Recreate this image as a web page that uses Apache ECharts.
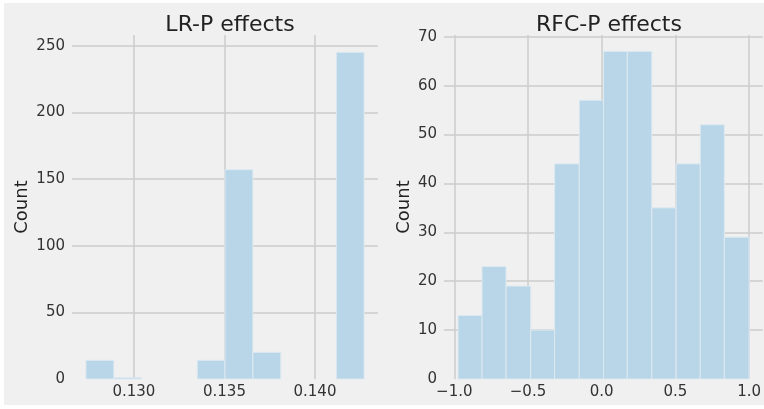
<!DOCTYPE html>
<html>

<head>
    <meta charset="utf-8">
    <title>LR-P / RFC-P effects</title>
    <script src="https://cdn.jsdelivr.net/npm/echarts@6/dist/echarts.min.js"></script>
    <style>
        html, body { margin: 0; padding: 0; background: #ffffff; }
        #main { position: absolute; left: 4px; top: 3px; width: 760px; height: 402px; background: #f0f0f0; }
    </style>
</head>

<body>
    <div id="main"></div>
    <script type="text/javascript">
        // bin edges and counts
        var lrEdges = [0.12735, 0.12889, 0.13042, 0.13196, 0.13350, 0.13503,
                       0.13657, 0.13811, 0.13964, 0.14118, 0.14271];
        var lrCounts = [14, 1, 0, 0, 14, 157, 20, 0, 0, 245];
        var lrTicksX = [0.130, 0.135, 0.140];
        var lrTicksY = [0, 50, 100, 150, 200, 250];

        var rfcEdges = [-0.975, -0.812, -0.649, -0.482, -0.320, -0.152, 0.013,
                        0.174, 0.340, 0.505, 0.669, 0.832, 1.000];
        var rfcCounts = [13, 23, 19, 10, 44, 57, 67, 67, 35, 44, 52, 29];
        var rfcTicksX = [-1.0, -0.5, 0.0, 0.5, 1.0];
        var rfcTicksY = [0, 10, 20, 30, 40, 50, 60, 70];

        var font = 'DejaVu Sans';
        var gridColor = '#cdcdcd';

        // histogram rows: [left edge, right edge, count]
        function toBins(edges, counts) {
            var out = [];
            for (var i = 0; i < counts.length; i++) {
                out.push([edges[i], edges[i + 1], counts[i]]);
            }
            return out;
        }

        function renderBin(params, api) {
            if (!api.value(2)) return null;   // empty bins draw nothing
            var p0 = api.coord([api.value(0), api.value(2)]);
            var p1 = api.coord([api.value(1), 0]);
            return {
                type: 'rect',
                shape: { x: p0[0], y: p0[1], width: p1[0] - p0[0], height: p1[1] - p0[1] },
                style: { fill: '#b8d6e7', stroke: '#dde9f1', lineWidth: 1 }
            };
        }

        function xAxisOf(idx, min, max, ticks, fmt) {
            return {
                type: 'value', gridIndex: idx, min: min, max: max,
                axisLine: { show: false },
                axisTick: { show: false, customValues: ticks },
                axisLabel: {
                    customValues: ticks, margin: 6, color: '#333333',
                    fontFamily: font, fontSize: 15, formatter: fmt
                },
                splitLine: { show: true, lineStyle: { color: gridColor, width: 1.5 } }
            };
        }

        // no grid line at 0 (it sits on the plot's bottom edge)
        function yAxisOf(idx, max, ticks, gap) {
            return {
                type: 'value', gridIndex: idx, min: 0, max: max,
                name: 'Count', nameLocation: 'middle', nameGap: gap,
                nameTextStyle: { fontFamily: font, fontSize: 18, color: '#222222' },
                axisLine: { show: false },
                axisTick: { show: false, customValues: ticks.slice(1) },
                axisLabel: {
                    customValues: ticks, margin: 7, color: '#333333',
                    fontFamily: font, fontSize: 15
                },
                splitLine: { show: true, lineStyle: { color: gridColor, width: 1.5 } }
            };
        }

        var myChart = echarts.init(document.getElementById('main'));

        var option = {
            backgroundColor: '#f0f0f0',
            animation: false,
            title: [{
                text: 'LR-P effects', left: 221, top: 6, textAlign: 'center',
                textStyle: { fontFamily: font, fontSize: 22, fontWeight: 'normal', color: '#222222' }
            }, {
                text: 'RFC-P effects', left: 600, top: 6, textAlign: 'center',
                textStyle: { fontFamily: font, fontSize: 22, fontWeight: 'normal', color: '#222222' }
            }],
            grid: [
                { left: 68, top: 32, width: 306, height: 344 },
                { left: 440, top: 32, right: 0, height: 344 }
            ],
            xAxis: [
                xAxisOf(0, 0.12658, 0.14348, lrTicksX, function (v) { return v.toFixed(3); }),
                xAxisOf(1, -1.07, 1.0926, rfcTicksX, function (v) {
                    return (v < 0 ? '\u2212' : '') + Math.abs(v).toFixed(1);
                })
            ],
            yAxis: [
                yAxisOf(0, 258, lrTicksY, 41),
                yAxisOf(1, 70.35, rfcTicksY, 31)
            ],
            series: [{
                type: 'custom', xAxisIndex: 0, yAxisIndex: 0,
                renderItem: renderBin, encode: { x: [0, 1], y: 2 },
                data: toBins(lrEdges, lrCounts)
            }, {
                type: 'custom', xAxisIndex: 1, yAxisIndex: 1,
                renderItem: renderBin, encode: { x: [0, 1], y: 2 },
                data: toBins(rfcEdges, rfcCounts)
            }]
        };
        myChart.setOption(option);
    </script>
</body>

</html>
